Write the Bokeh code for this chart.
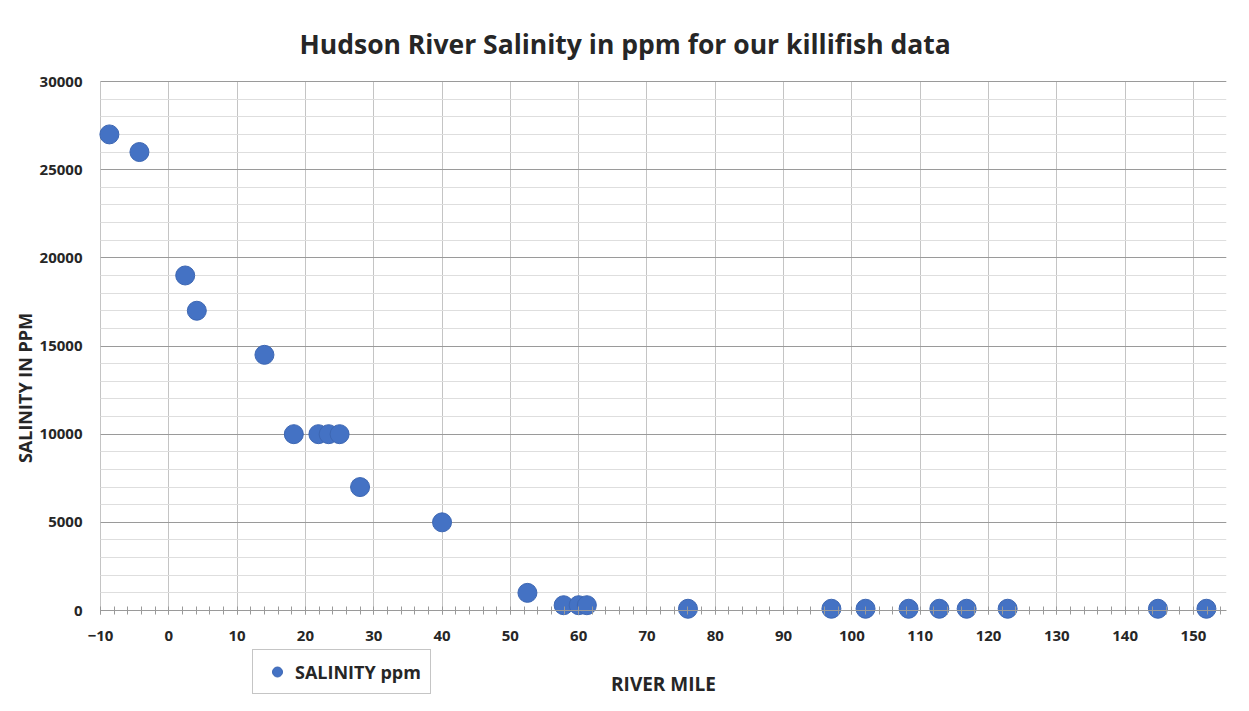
from bokeh.plotting import figure
from bokeh.models import ColumnDataSource, SingleIntervalTicker, Legend, LegendItem, Range1d
from bokeh.embed import file_html
from bokeh.resources import INLINE

# ---- data ----
river_mile = [-8.7, -4.3, 2.4, 4.1, 14.0, 18.3, 21.9, 23.4, 25.0, 28.0, 40.0, 52.5,
              57.8, 60.0, 61.2, 76.0, 97.0, 102.0, 108.3, 112.8, 116.8, 122.8, 144.8, 151.9]
salinity_ppm = [27000, 26000, 19000, 17000, 14500, 10000, 10000, 10000, 10000, 7000, 5000, 1000,
                300, 300, 300, 100, 100, 100, 100, 100, 100, 100, 100, 100]

title_text = "Hudson River Salinity in ppm for our killifish data"
x_label = "RIVER MILE"
y_label = "SALINITY IN PPM"
series_name = "SALINITY ppm"

FONT = "Open Sans"
TXT = "#262626"
BLUE = "#4472C4"

X_MIN, X_MAX = -10, 154.84
Y_MIN, Y_MAX = 0, 30000

src = ColumnDataSource(dict(x=river_mile, y=salinity_ppm))

# frame extends a little beyond the plotted area so that edge markers and the
# "-10" tick label are drawn whole; grid and axis are bounded to the plot area
p = figure(width=1233, height=695, output_backend="svg", toolbar_location=None,
           x_range=Range1d(-12.196, X_MAX), y_range=Range1d(-4820, 30057),
           min_border_left=85, min_border_right=7, min_border_top=80, min_border_bottom=0)
p.outline_line_color = None
p.background_fill_color = "white"
p.border_fill_color = "white"

p.title.text = title_text
p.title.align = "left"
p.title.offset = 214
p.title.standoff = 37
p.title.text_font = FONT
p.title.text_font_size = "26.5px"
p.title.text_font_style = "bold"
p.title.text_color = TXT

xt = SingleIntervalTicker(interval=10, num_minor_ticks=5)
yt = SingleIntervalTicker(interval=5000, num_minor_ticks=5)
p.xaxis.ticker = xt
p.yaxis.ticker = yt
p.xgrid.ticker = xt
p.ygrid.ticker = yt

p.xgrid.grid_line_color = "#c4c4c4"
p.xgrid.bounds = (X_MIN, X_MAX)
p.xgrid.cross_bounds = (Y_MIN, Y_MAX)
p.ygrid.bounds = (Y_MIN, Y_MAX)
p.ygrid.cross_bounds = (X_MIN, X_MAX)
p.ygrid.grid_line_color = "#9a9a9a"
p.ygrid.minor_grid_line_color = "#dedede"

ax = p.xaxis[0]
ax.fixed_location = 0
ax.bounds = (X_MIN, X_MAX)
ax.axis_line_color = "#9a9a9a"
ax.major_tick_line_color = "#9a9a9a"
ax.minor_tick_line_color = "#9a9a9a"
ax.major_tick_in = 0
ax.major_tick_out = 4
ax.minor_tick_in = 4
ax.minor_tick_out = 4
ax.major_label_standoff = 16
ax.major_label_text_font = FONT
ax.major_label_text_font_size = "15px"
ax.major_label_text_font_style = "bold"
ax.major_label_text_color = TXT
ax.axis_label = x_label
ax.axis_label_standoff = 27
ax.axis_label_text_font = FONT
ax.axis_label_text_font_size = "19px"
ax.axis_label_text_font_style = "bold"
ax.axis_label_text_color = TXT

ay = p.yaxis[0]
ay.bounds = (Y_MIN, Y_MAX)
ay.axis_line_color = None
ay.major_tick_line_color = None
ay.minor_tick_line_color = None
ay.major_label_standoff = -3
ay.major_label_text_font = FONT
ay.major_label_text_font_size = "15px"
ay.major_label_text_font_style = "bold"
ay.major_label_text_color = TXT
ay.axis_label = y_label
ay.axis_label_standoff = 0
ay.axis_label_text_font = FONT
ay.axis_label_text_font_size = "18px"
ay.axis_label_text_font_style = "bold"
ay.axis_label_text_color = TXT

r = p.scatter("x", "y", source=src, size=19, fill_color=BLUE, line_color="#3d67b3", line_width=1)

legend = Legend(items=[LegendItem(label=series_name, renderers=[r])],
                location=(167, 1), orientation="horizontal",
                border_line_color="#8c8c8c", border_line_width=1.5,
                background_fill_color="white", background_fill_alpha=1,
                padding=9, glyph_width=30, glyph_height=25, label_standoff=3,
                label_text_font=FONT, label_text_font_size="18px",
                label_text_font_style="bold", label_text_color=TXT)
p.add_layout(legend, "center")

open("out.html", "w").write(file_html(p, INLINE))
